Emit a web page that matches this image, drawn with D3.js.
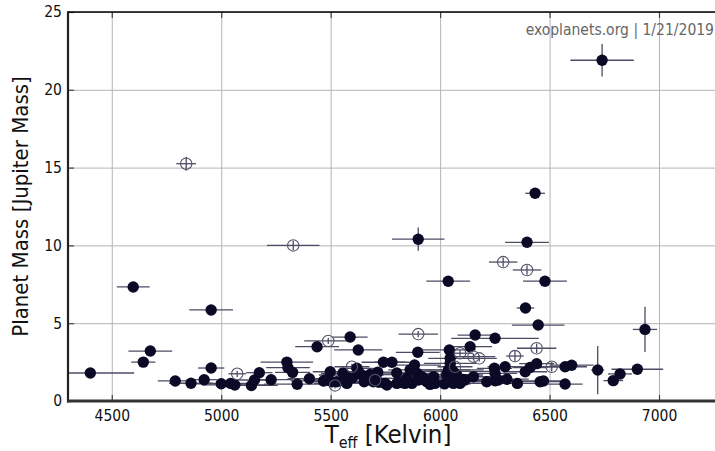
<!doctype html>
<html>
<head>
<meta charset="utf-8"/>
<title>Planet Mass vs Teff</title>
<script src="https://d3js.org/d3.v7.min.js"></script>
<style>
body { margin: 0; background: #fff; }
text { font-family: "DejaVu Sans Condensed", "DejaVu Sans", sans-serif; }
</style>
</head>
<body>

<div id="grafico"></div>

<script>
// pontos cheios: Teff, massa e barras de erro
var filledTeff = [4402,4598,4644,4676,4790,4862,4922,4954,4954,5000,5043,5062,5138,5152,5174,5228,5300,5305,5326,5347,
  5403,5438,5467,5475,5498,5505,5528,5556,5566,5574,5589,5600,5620,5626,5627,5642,5653,5658,5680,5695,
  5715,5720,5741,5749,5757,5780,5802,5802,5825,5840,5848,5863,5871,5883,5894,5898,5900,5901,5916,5924,
  5939,5954,5970,5977,6020,6030,6037,6038,6040,6042,6046,6046,6049,6053,6060,6061,6068,6076,6091,6106,
  6114,6137,6152,6160,6213,6248,6251,6251,6251,6266,6297,6305,6353,6389,6390,6397,6411,6434,6441,6448,
  6457,6472,6479,6571,6571,6601,6720,6740,6791,6822,6901,6936];
var filledMass = [1.80,7.33,2.50,3.21,1.29,1.14,1.37,5.85,2.12,1.11,1.13,1.03,1.00,1.35,1.82,1.37,2.50,2.14,1.84,1.08,
  1.43,3.49,1.29,1.35,1.88,1.24,1.24,1.78,1.67,1.13,4.11,1.50,2.10,3.28,1.88,1.67,1.24,1.46,1.70,1.24,
  1.85,1.20,2.49,1.13,1.03,2.49,1.80,1.13,1.18,1.13,1.46,2.00,1.13,2.31,1.78,3.13,10.40,1.35,1.56,1.46,
  1.24,1.07,1.56,1.13,1.10,1.70,7.70,2.00,1.30,3.28,2.74,2.42,2.00,1.56,1.90,1.13,1.56,1.67,1.13,1.39,
  1.35,3.49,1.56,4.24,1.24,2.10,4.03,1.78,1.30,1.35,2.20,1.40,1.13,1.88,5.98,10.20,2.15,13.35,2.40,4.88,
  1.24,1.29,7.70,2.20,1.09,2.30,1.99,21.90,1.31,1.74,2.04,4.60];
var filledTeffErr = [200,75,55,100,80,100,60,100,60,120,100,150,120,80,60,100,120,100,80,150,
  100,100,150,100,80,120,100,100,120,150,80,100,80,110,100,100,100,120,100,150,
  100,120,100,100,120,80,100,120,150,100,120,100,100,120,100,100,120,100,120,120,
  150,120,100,100,120,150,100,100,100,120,100,120,150,100,200,120,100,120,100,100,
  100,100,100,80,120,80,200,100,100,100,80,100,120,100,40,100,80,45,80,120,
  100,100,100,100,80,100,30,145,45,55,118,55];
var filledMassErr = [0.05,0.10,0.08,0.08,0.05,0.05,0.05,0.10,0.08,0.05,0.05,0.05,0.05,0.05,0.08,0.05,0.08,0.08,0.08,0.05,
  0.05,0.10,0.05,0.05,0.05,0.05,0.05,0.05,0.05,0.05,0.10,0.05,0.05,0.10,0.05,0.05,0.05,0.05,0.05,0.05,
  0.05,0.05,0.08,0.05,0.05,0.08,0.05,0.05,0.05,0.05,0.05,0.05,0.05,0.08,0.05,0.10,0.75,0.05,0.05,0.05,
  0.05,0.05,0.05,0.05,0.05,0.05,0.30,0.05,0.05,0.10,0.08,0.08,0.05,0.05,0.05,0.05,0.05,0.05,0.05,0.05,
  0.05,0.10,0.05,0.10,0.05,0.08,0.10,0.05,0.05,0.05,0.08,0.05,0.05,0.05,0.10,0.20,0.08,0.30,0.08,0.10,
  0.05,0.05,0.20,0.08,0.05,0.08,1.55,1.05,0.08,0.08,0.10,1.45];

// pontos abertos (circulos vazados)
var openTeff = [4840,5073,5329,5489,5520,5597,5703,5900,6068,6091,6152,6179,6288,6342,6397,6441,6510];
var openMass = [15.25,1.75,10.0,3.86,1.0,2.2,1.35,4.3,2.2,3.07,2.85,2.74,8.93,2.89,8.42,3.39,2.2];
var openTeffErr = [45,40,120,110,60,80,60,90,80,60,100,80,65,40,65,90,80];
var openMassErr = [0.45,0.2,0.3,0.2,0.2,0.2,0.2,0.2,0.2,0.2,0.2,0.2,0.3,0.35,0.3,0.3,0.3];

var xTicks = [4500, 5000, 5500, 6000, 6500, 7000];
var yTicks = [0, 5, 10, 15, 20, 25];

var W = 715, H = 451;
var mL = 68, mR = 715, mT = 12, mB = 401;

var svg = d3.select("#grafico")
  .append("svg")
  .attr("width", W)
  .attr("height", H);

var x = d3.scaleLinear().domain([4300, 7000]).range([mL, 659]);
var y = d3.scaleLinear().domain([0, 25]).range([mB, mT]);

svg.append("clipPath").attr("id", "area")
  .append("rect")
  .attr("x", mL).attr("y", mT)
  .attr("width", mR - mL).attr("height", mB - mT);

// grade
var gx = svg.append("g")
  .attr("transform", "translate(0," + mB + ")")
  .call(d3.axisBottom(x).tickValues(xTicks).tickSize(-(mB - mT)).tickFormat(""));
gx.select(".domain").remove();
gx.selectAll("line").attr("stroke", "#b4b4b4").attr("stroke-width", 1);

var gy = svg.append("g")
  .attr("transform", "translate(" + mL + ",0)")
  .call(d3.axisLeft(y).tickValues(yTicks).tickSize(-(mR - mL)).tickFormat(""));
gy.select(".domain").remove();
gy.selectAll("line").attr("stroke", "#b4b4b4").attr("stroke-width", 1);

// marcas curtas nas bordas
function marcas(g) {
  g.select(".domain").remove();
  g.selectAll("line").attr("stroke", "#444").attr("stroke-width", 1.2);
}
svg.append("g").attr("transform", "translate(0," + mB + ")")
  .call(d3.axisBottom(x).tickValues(xTicks).tickSize(-6).tickFormat("")).call(marcas);
svg.append("g").attr("transform", "translate(0," + mT + ")")
  .call(d3.axisTop(x).tickValues(xTicks).tickSize(-6).tickFormat("")).call(marcas);
svg.append("g").attr("transform", "translate(" + mL + ",0)")
  .call(d3.axisLeft(y).tickValues(yTicks).tickSize(-6).tickFormat("")).call(marcas);

// rotulos dos eixos
var lx = svg.append("g")
  .attr("transform", "translate(0," + mB + ")")
  .call(d3.axisBottom(x).tickValues(xTicks).tickSize(0).tickPadding(9).tickFormat(d3.format("d")));
lx.select(".domain").remove();
lx.selectAll("text").attr("font-size", 15.5).attr("fill", "#111")
  .attr("font-family", "DejaVu Sans Condensed, DejaVu Sans, sans-serif");

var ly = svg.append("g")
  .attr("transform", "translate(" + mL + ",0)")
  .call(d3.axisLeft(y).tickValues(yTicks).tickSize(0).tickPadding(6).tickFormat(d3.format("d")));
ly.select(".domain").remove();
ly.selectAll("text").attr("font-size", 15.5).attr("fill", "#111")
  .attr("font-family", "DejaVu Sans Condensed, DejaVu Sans, sans-serif");

// dados
var plot = svg.append("g").attr("clip-path", "url(#area)");

function erros(T, M, dT, dM) {
  var g = plot.append("g").attr("stroke", "#4c4c64").attr("stroke-width", 1.3);
  for (var i = 0; i < T.length; i++) {
    g.append("line")
      .attr("x1", x(T[i] - dT[i])).attr("x2", x(T[i] + dT[i]))
      .attr("y1", y(M[i])).attr("y2", y(M[i]));
    g.append("line")
      .attr("x1", x(T[i])).attr("x2", x(T[i]))
      .attr("y1", y(M[i] - dM[i])).attr("y2", y(M[i] + dM[i]));
  }
}

erros(openTeff, openMass, openTeffErr, openMassErr);
erros(filledTeff, filledMass, filledTeffErr, filledMassErr);

plot.append("g").selectAll("circle")
  .data(d3.range(filledTeff.length))
  .enter().append("circle")
  .attr("cx", function(i) { return x(filledTeff[i]); })
  .attr("cy", function(i) { return y(filledMass[i]); })
  .attr("r", 5.7)
  .attr("fill", "#0a0a26");

plot.append("g").selectAll("circle")
  .data(d3.range(openTeff.length))
  .enter().append("circle")
  .attr("cx", function(i) { return x(openTeff[i]); })
  .attr("cy", function(i) { return y(openMass[i]); })
  .attr("r", 5.7)
  .attr("fill", "none")
  .attr("stroke", "#55556a")
  .attr("stroke-width", 1.1);

// bordas
svg.append("line").attr("x1", mL).attr("x2", mR).attr("y1", mT).attr("y2", mT)
  .attr("stroke", "#000").attr("stroke-width", 1.6);
svg.append("line").attr("x1", mL).attr("x2", mL).attr("y1", mT - 0.8).attr("y2", mB + 1.5)
  .attr("stroke", "#222").attr("stroke-width", 2.2);
svg.append("line").attr("x1", mL - 1).attr("x2", mR).attr("y1", mB).attr("y2", mB)
  .attr("stroke", "#333").attr("stroke-width", 3);

// titulos
svg.append("text")
  .attr("transform", "translate(28," + ((mT + mB) / 2) + ") rotate(-90)")
  .attr("text-anchor", "middle")
  .attr("font-size", 22)
  .attr("fill", "#111")
  .text("Planet Mass [Jupiter Mass]");

var xt = svg.append("text")
  .attr("x", 388)
  .attr("y", 443)
  .attr("text-anchor", "middle")
  .attr("font-size", 25.5)
  .attr("fill", "#111");
xt.append("tspan").text("T");
xt.append("tspan").attr("font-size", 16).attr("dy", 5).text("eff");
xt.append("tspan").attr("dy", -5).text(" [Kelvin]");

svg.append("text")
  .attr("x", 714)
  .attr("y", 35)
  .attr("text-anchor", "end")
  .attr("font-size", 15.5)
  .attr("fill", "#666")
  .text("exoplanets.org | 1/21/2019");
</script>
</body>
</html>
